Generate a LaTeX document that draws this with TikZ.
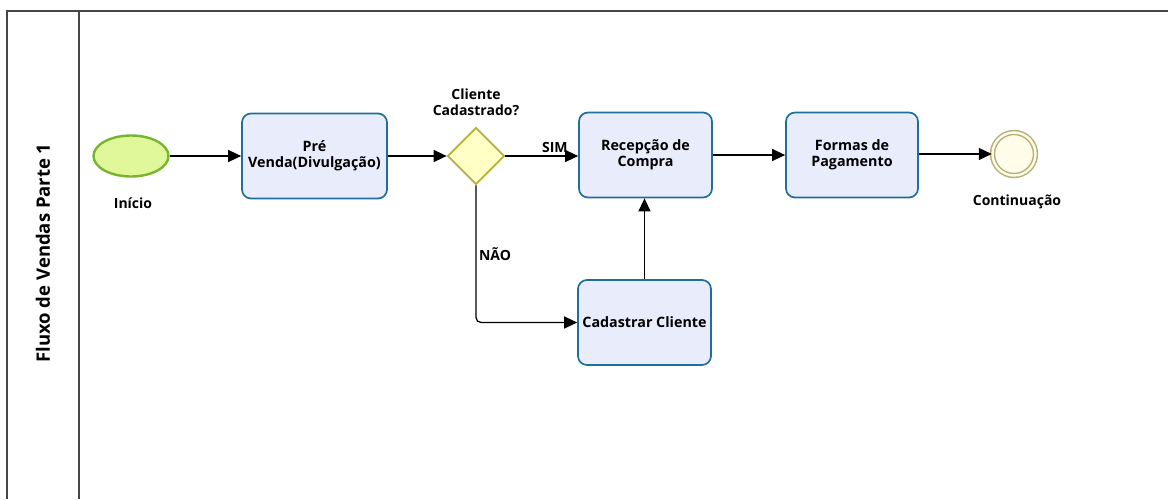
\documentclass[tikz,border=0pt]{standalone}
\usepackage{fontspec}
\setmainfont{Open Sans}
\usetikzlibrary{arrows.meta,shapes.geometric}
\definecolor{taskfill}{HTML}{E8ECFB}
\definecolor{taskdraw}{HTML}{1F6E9C}
\definecolor{startfill}{HTML}{E0F79A}
\definecolor{startdraw}{HTML}{78B52E}
\definecolor{gwfill}{HTML}{FFFFC6}
\definecolor{gwdraw}{HTML}{B2B23C}
\definecolor{endfill}{HTML}{FFFDE9}
\definecolor{enddraw}{HTML}{B7AF7A}
\definecolor{pooldraw}{HTML}{454545}
\tikzset{
  task/.style={draw=taskdraw, fill=taskfill, line width=1.7pt, rounded corners=9pt,
    minimum width=#1, minimum height=85pt, align=center, inner sep=1pt,
    font=\fontsize{14.3}{16}\selectfont\bfseries},
  task/.default=134pt,
  flow/.style={draw=black, line width=1.3pt, -{Triangle[length=13pt,width=12pt]}},
  lbl/.style={font=\fontsize{14}{16}\selectfont\bfseries, align=center, inner sep=0pt},
}
\begin{document}
\begin{tikzpicture}[x=1pt,y=-1pt]
\useasboundingbox (0,0) rectangle (1168,499);
% pool
\draw[pooldraw, line width=1.4pt] (1168,11) -- (7,11) -- (7,499);
\draw[pooldraw, line width=1.4pt] (79,11) -- (79,499);
\node[rotate=90, font=\fontsize{18.5}{20}\selectfont\bfseries] (title) at (43,253) {Fluxo de Vendas Parte 1};
% nodes
\node[ellipse, draw=startdraw, fill=startfill, line width=2.4pt, minimum width=75pt, minimum height=41pt, inner sep=0pt] (start) at (131,156) {};
\node[lbl] (startlbl) at (133,203) {Início};
\node[task=145pt] (t1) at (314.5,156) {Pré\\Venda(Divulgação)};
\node[diamond, draw=gwdraw, fill=gwfill, line width=1.7pt, minimum width=57pt, minimum height=57pt, inner sep=0pt] (gw) at (476,156) {};
\node[lbl] (gwlbl) at (476,102) {Cliente\\Cadastrado?};
\node[task=133pt] (t2) at (645.5,155) {Recepção de\\Compra};
\node[task=132pt] (t3) at (852,155) {Formas de\\Pagamento};
\node[task=133pt] (t4) at (644.5,322.5) {Cadastrar Cliente};
\node[circle, draw=enddraw, fill=endfill, line width=1.5pt, minimum size=43pt, double=endfill, double distance=2.4pt, inner sep=0pt] (end) at (1014,154) {};
\node[lbl] (endlbl) at (1017,202) {Continuação};
% flows
\draw[flow] (start) -- (t1.west |- start);
\draw[flow] (t1) -- (gw);
\draw[flow] (gw.east) -- (t2.west |- gw.east) node[lbl, pos=0.68, above=3pt] (sim) {SIM};
\coordinate (corner) at (gw.south |- t4.west);
\draw[flow, rounded corners=5pt] (gw.south) -- (corner) -- (t4.west);
\node[lbl] (nao) at (495,254) {NÃO};
\draw[flow] (t4.north) -- (t4.north |- t2.south);
\draw[flow] (t2) -- (t3);
\draw[flow] (t3.east |- end) -- (end);
\end{tikzpicture}
\end{document}
